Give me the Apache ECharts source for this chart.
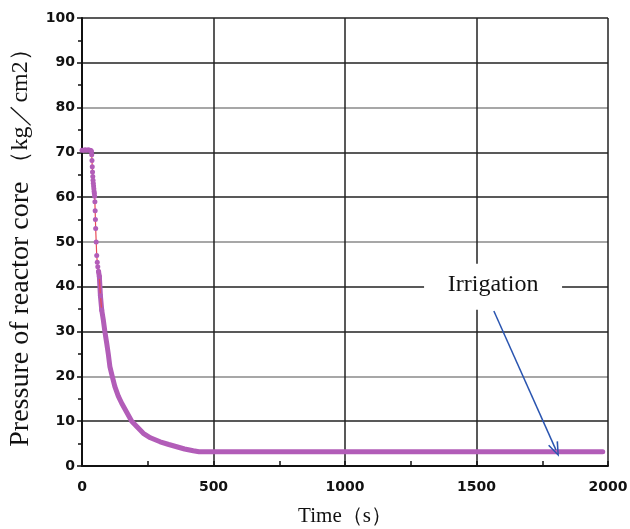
<!DOCTYPE html>
<html>
<head>
<meta charset="utf-8">
<script src="https://cdn.jsdelivr.net/npm/echarts@6/dist/echarts.min.js"></script>
<style>
html,body{margin:0;padding:0;background:#fff;}
#chart{width:630px;height:529px;}
</style>
</head>
<body>
<div id="chart"></div>
<script>
// Time (s)
const times = [0,6,12,18,24,30,34,36,37,38,39,40,41,42,43,44,45,46,47,48,49,50,51,52,54,56,58,60,63,66,70,75,81,87,94,100,106,115,125,138,151,170,189,210,233,260,297,330,360,390,423,445,470,500,750,1000,1250,1500,1750,1980];
// Pressure of reactor core (kg/cm2)
const pressure = [70.5,70.5,70.6,70.5,70.6,70.5,70.4,70.2,69.5,68.2,66.8,65.6,64.6,63.8,63.1,62.5,61.9,61.3,60.8,60.2,59,57,55,53,50,47,45.5,44.5,43.4,42.3,38,34.8,32.6,30,27.4,25,22.2,20,17.7,15.6,14,12,10,8.7,7.3,6.3,5.4,4.8,4.3,3.8,3.4,3.2,3.2,3.2,3.2,3.2,3.2,3.2,3.2,3.2];
const xTicks = [0,500,1000,1500,2000];
const yTicks = [0,10,20,30,40,50,60,70,80,90,100];
const annotationText = 'Irrigation';
const annotationFrom = [1566, 34.6];
const annotationTo = [1802, 3.6];
const annotationBox = [1563, 40];

const splitIdx = 31; // end of marker-dotted upper part
const pts = times.map((t,i)=>[t,pressure[i]]);
const topPts = pts.slice(0, splitIdx+1);
const bandPts = pts.slice(splitIdx-3);

const chart = echarts.init(document.getElementById('chart'), null, {renderer:'canvas'});
const tickFont = {fontFamily:'DejaVu Sans', fontWeight:'bold', fontSize:14, color:'#111'};
chart.setOption({
  animation:false,
  backgroundColor:'#fff',
  grid:{left:82,right:22,top:18,bottom:63, containLabel:false, outerBoundsMode:'none'},
  xAxis:{
    type:'value', min:xTicks[0], max:xTicks[xTicks.length-1], interval:500,
    name:'Time（s）', nameLocation:'middle', nameGap:40,
    nameTextStyle:{fontFamily:'Liberation Serif', fontSize:21, color:'#111'},
    axisLine:{show:true, onZero:false, lineStyle:{color:'#111', width:2}},
    axisTick:{show:true, inside:true, length:5, lineStyle:{color:'#111', width:1.5}},
    minorTick:{show:true, splitNumber:2, length:5, lineStyle:{color:'#111', width:1.5}},
    axisLabel:{...tickFont, margin:14, formatter:(v)=>String(v)},
    splitLine:{show:true, lineStyle:{color:'#222', width:1.5}}
  },
  yAxis:{
    type:'value', min:yTicks[0], max:yTicks[yTicks.length-1], interval:10,
    name:'{a|Pressure of reactor core }{b|（kg／cm2）}', nameLocation:'middle', nameGap:46,
    nameTextStyle:{fontFamily:'Liberation Serif', color:'#111',
      rich:{a:{fontFamily:'Liberation Serif', fontSize:28, color:'#111'}, b:{fontFamily:'Liberation Serif', fontSize:24, color:'#111'}}},
    axisLine:{show:true, onZero:false, lineStyle:{color:'#111', width:2}},
    axisTick:{show:true, inside:false, length:5, lineStyle:{color:'#111', width:1.5}},
    minorTick:{show:true, splitNumber:2, length:4, lineStyle:{color:'#111', width:1.5}},
    axisLabel:{...tickFont, margin:7, formatter:(v)=>String(v)},
    splitLine:{show:true, lineStyle:{color:['#222','#222','#8a8a8a'], width:1.5}}
  },
  series:[
    {
      type:'line', data:bandPts, showSymbol:false, symbol:'none',
      lineStyle:{color:'#b25db8', width:5, cap:'round', join:'round'},
      z:3,
      markLine:{
        silent:true, symbol:['none','path://M5,0 L10,13 L8.6,13.5 L5,3.5 L1.4,13.5 L0,13 Z'], symbolSize:[11,15],
        lineStyle:{color:'#2a55b0', width:1.5, type:'solid'},
        label:{show:false},
        data:[[{coord:annotationFrom},{coord:annotationTo}]]
      },
      markPoint:{
        silent:true,
        symbol:'rect', symbolSize:[138,46],
        itemStyle:{color:'#fff'},
        label:{show:true, formatter:annotationText, fontFamily:'Liberation Serif', fontSize:24, color:'#111', offset:[0,-2]},
        data:[{coord:annotationBox}]
      }
    },
    {
      type:'line', data:topPts, showAllSymbol:true, symbol:'circle', symbolSize:5,
      itemStyle:{color:'#b25db8'},
      lineStyle:{color:'#e84a55', width:1.2},
      z:4
    }
  ]
});
</script>
</body>
</html>
